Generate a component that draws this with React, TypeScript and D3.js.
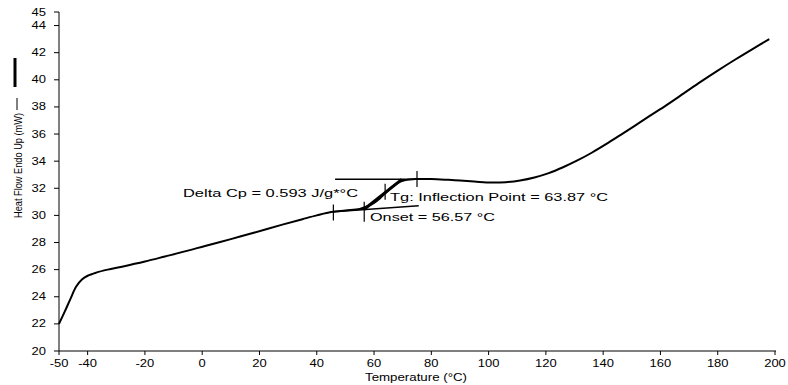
import React from "react";
import * as d3 from "d3";

const temps = [-50, -48, -46, -44, -42, -40, -37, -33, -28, -20, -13, -5, 1, 10, 18, 28, 35, 40, 45, 50, 55, 58, 60, 62, 64, 66, 68, 71, 75, 80, 86, 90, 95, 101, 106, 111, 116, 121, 126, 131, 136, 141, 146, 151, 156, 162, 168, 174, 180, 186, 192, 198];
const heatFlow = [22.0, 22.9, 23.85, 24.75, 25.28, 25.55, 25.78, 26.0, 26.22, 26.6, 26.97, 27.4, 27.75, 28.25, 28.72, 29.32, 29.72, 30.0, 30.25, 30.36, 30.47, 30.7, 30.92, 31.25, 31.65, 32.05, 32.37, 32.6, 32.68, 32.68, 32.62, 32.57, 32.5, 32.42, 32.45, 32.58, 32.8, 33.12, 33.55, 34.05, 34.62, 35.25, 35.92, 36.6, 37.3, 38.12, 38.98, 39.85, 40.68, 41.48, 42.25, 43.0];

const xTicks = [-50, -40, -20, 0, 20, 40, 60, 80, 100, 120, 140, 160, 180, 200];
const yTicks = [20, 22, 24, 26, 28, 30, 32, 34, 36, 38, 40, 42, 44, 45];

// annotation construction lines [T1, v1, T2, v2]
const upperLine = [46.4, 32.66, 75.4, 32.66];
const lowerLine = [46.0, 30.27, 75.6, 30.71];
const tangentLine = [56.57, 30.45, 69.7, 32.66];
// tick marks on the annotation [T, v]
const markT = [45.8, 56.57, 63.87, 75.0];
const markV = [30.21, 30.27, 31.75, 32.68];

const labels = ["Delta Cp = 0.593 J/g*°C", "Tg: Inflection Point = 63.87 °C", "Onset = 56.57 °C"];
const labelT = [54.4, 65.6, 58.6];
const labelV = [31.36, 31.06, 29.59];

export default function App() {
  const W = 788, H = 385;
  const x = d3.scaleLinear().domain([-50, 200]).range([59, 775]);
  const y = d3.scaleLinear().domain([20, 45]).range([351, 12]);
  const pts: [number, number][] = temps.map((t, i) => [t, heatFlow[i]]);
  const line = d3.line<[number, number]>().x(d => x(d[0])).y(d => y(d[1])).curve(d3.curveCatmullRom.alpha(0.5));
  const font = "Arial, 'Liberation Sans', sans-serif";
  const seg = (s: number[], w: number) => (
    <line x1={x(s[0])} y1={y(s[1])} x2={x(s[2])} y2={y(s[3])} stroke="#000" strokeWidth={w} />
  );
  const lens = [175, 218, 125];
  const sx = 1.3;
  return (
    <svg width={W} height={H} style={{ position: "absolute", left: 0, top: 0, background: "#fff" }} fontFamily={font}>
      <rect width={W} height={H} fill="#fff" />
      {/* axes */}
      <line x1={x(-50)} y1={y(45)} x2={x(-50)} y2={y(20)} stroke="#000" strokeWidth={1} />
      <line x1={x(-50)} y1={y(20)} x2={x(200) + 1} y2={y(20)} stroke="#000" strokeWidth={1} />
      {yTicks.map(v => (
        <g key={"y" + v}>
          <line x1={x(-50) - 5} x2={x(-50)} y1={y(v)} y2={y(v)} stroke="#000" />
          <text transform={`translate(46,${y(v) + 3.5}) scale(${sx},1)`} fontSize={10} textAnchor="end" fill="#000">{v}</text>
        </g>
      ))}
      {xTicks.map(t => (
        <g key={"x" + t}>
          <line x1={x(t)} x2={x(t)} y1={y(20)} y2={y(20) + 4} stroke="#000" />
          <text transform={`translate(${x(t)},367) scale(${sx},1)`} fontSize={10} textAnchor="middle" fill="#000">{t}</text>
        </g>
      ))}
      <text x={365} y={381} fontSize={10} textLength={102} lengthAdjust="spacingAndGlyphs" fill="#000">Temperature (°C)</text>
      {/* y title */}
      <rect x={13.5} y={58} width={3} height={29} fill="#000" />
      <line x1={17} x2={17} y1={98} y2={110} stroke="#000" strokeWidth={1} />
      <text transform="translate(21.5,218) rotate(-90)" fontSize={10.5} textLength={105} lengthAdjust="spacingAndGlyphs" fill="#000">Heat Flow Endo Up (mW)</text>
      {/* curve */}
      <path d={line(pts) || ""} fill="none" stroke="#000" strokeWidth={2} />
      {/* annotation */}
      {seg(upperLine, 1.5)}
      {seg(lowerLine, 1.5)}
      {seg(tangentLine, 3)}
      {markT.map((t, i) => (
        <line key={"m" + i} x1={x(t)} x2={x(t)} y1={y(markV[i]) - (i === 1 ? 10 : 8)} y2={y(markV[i]) + (i === 1 ? 10 : 8)} stroke="#000" strokeWidth={1.2} />
      ))}
      {labels.map((s, i) => (
        <text key={"l" + i} x={x(labelT[i])} y={y(labelV[i])} fontSize={11.5} textAnchor={i === 0 ? "end" : "start"} textLength={lens[i]} lengthAdjust="spacingAndGlyphs" fill="#000">{s}</text>
      ))}
    </svg>
  );
}
